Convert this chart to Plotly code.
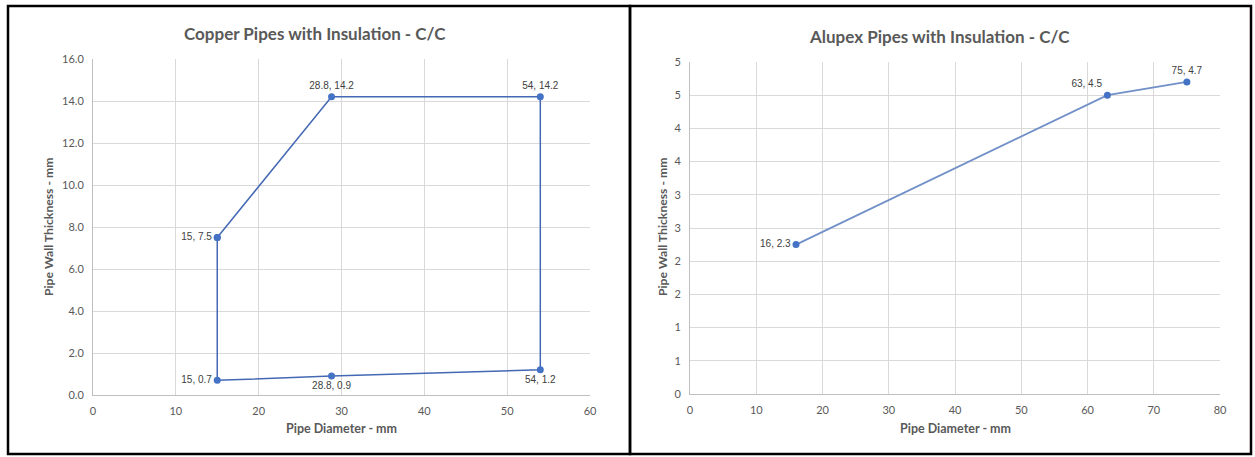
import plotly.graph_objects as go

# Copper chart data (closed outline)
copper_x = [15, 28.8, 54, 54, 28.8, 15, 15]
copper_y = [7.5, 14.2, 14.2, 1.2, 0.9, 0.7, 7.5]
copper_labels = ["15, 7.5", "28.8, 14.2", "54, 14.2", "54, 1.2", "28.8, 0.9", "15, 0.7", ""]
copper_pos = ["middle left", "top center", "top center", "bottom center", "bottom center", "middle left", "middle left"]

# Alupex chart data
alupex_x = [16, 63, 75]
alupex_y = [2.25, 4.5, 4.7]
alupex_labels = ["16, 2.3", "63, 4.5", "75, 4.7"]
alupex_pos = ["middle left", "top left", "top center"]

copper_title = "Copper Pipes with Insulation - C/C"
alupex_title = "Alupex Pipes with Insulation - C/C"
x_title = "Pipe Diameter - mm"
y_title = "Pipe Wall Thickness - mm"

W, H = 1255, 457
grey_text = "#595959"
grid = "#d9d9d9"

fig = go.Figure()
fig.add_trace(go.Scatter(
    x=copper_x, y=copper_y, mode="lines+markers+text",
    text=copper_labels, textposition=copper_pos,
    textfont=dict(family="Liberation Sans, Arial", size=10, color="#404040"),
    line=dict(color="#4468b4", width=1.5),
    marker=dict(color="#4472c4", size=7),
    xaxis="x", yaxis="y", showlegend=False, cliponaxis=False, hoverinfo="skip",
))
fig.add_trace(go.Scatter(
    x=alupex_x, y=alupex_y, mode="lines+markers+text",
    text=alupex_labels, textposition=alupex_pos,
    textfont=dict(family="Liberation Sans, Arial", size=10, color="#404040"),
    line=dict(color="#7290c8", width=1.8),
    marker=dict(color="#4472c4", size=7),
    xaxis="x2", yaxis="y2", showlegend=False, cliponaxis=False, hoverinfo="skip",
))

def px_x(p):
    return p / W

def px_y(p):
    return 1 - p / H

axis_common = dict(
    showgrid=True, gridcolor=grid, gridwidth=1,
    zeroline=False, showline=True, linecolor="#bfbfbf", linewidth=1,
    ticks="outside", ticklen=6, tickcolor="rgba(0,0,0,0)",
    tickfont=dict(family="Lato, Open Sans", size=11, color=grey_text),
    fixedrange=True, automargin=False,
)

fig.update_layout(
    width=W, height=H,
    margin=dict(l=0, r=0, t=0, b=0, autoexpand=False),
    paper_bgcolor="white", plot_bgcolor="white",
    xaxis=dict(domain=[px_x(93), px_x(590)], range=[0, 60], dtick=10, anchor="y",
               **axis_common),
    yaxis=dict(domain=[px_y(395), px_y(59)], range=[0, 16], dtick=2, tickformat=".1f",
               anchor="x", **axis_common),
    xaxis2=dict(domain=[px_x(690), px_x(1220)], range=[0, 80], dtick=10, anchor="y2",
                **axis_common),
    yaxis2=dict(domain=[px_y(394), px_y(62)], range=[0, 5], dtick=0.5, tickformat=".0f",
                anchor="x2", **axis_common),
)

shapes = []
shapes.append(dict(type="rect", xref="paper", yref="paper",
                   x0=px_x(8), x1=px_x(630), y0=px_y(454), y1=px_y(6),
                   line=dict(color="black", width=2.5)))
shapes.append(dict(type="rect", xref="paper", yref="paper",
                   x0=px_x(630), x1=px_x(1251), y0=px_y(454), y1=px_y(6),
                   line=dict(color="black", width=2.5)))
fig.update_layout(shapes=shapes)

annotations = []
def ann(text, x, y, size, angle=0):
    return dict(text="<b>" + text + "</b>", xref="paper", yref="paper",
                x=px_x(x), y=px_y(y), xanchor="center", yanchor="middle",
                showarrow=False, textangle=angle,
                font=dict(family="Lato, Open Sans", size=size, color=grey_text))

annotations.append(ann(copper_title, 315, 33, 17))
annotations.append(ann(alupex_title, 939, 36, 17))
for cx, yx in [(341, 48), (955, 662)]:
    annotations.append(ann(x_title, cx, 428, 12.5))
    annotations.append(ann(y_title, yx, 227, 12.2, -90))
fig.update_layout(annotations=annotations)

fig.write_html("out.html", config={"displayModeBar": False},
               post_script="document.body.style.margin='0';")
